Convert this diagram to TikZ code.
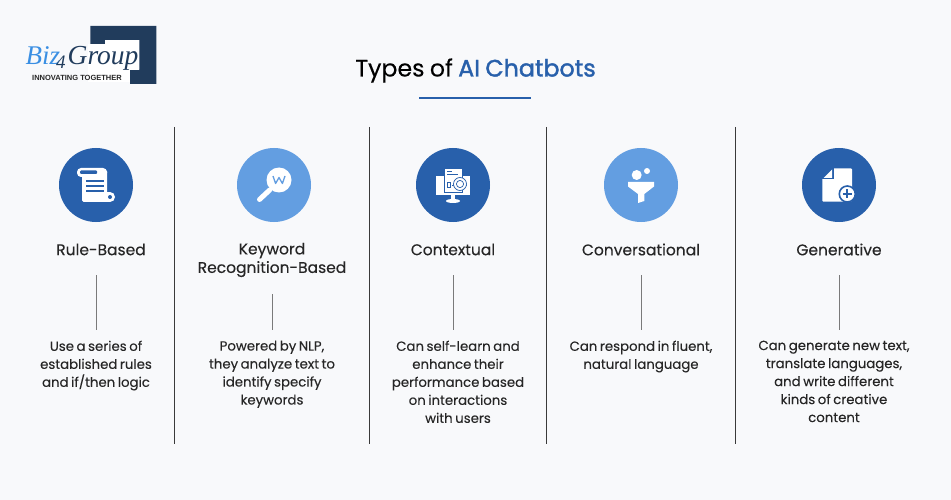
\documentclass[tikz,border=0pt]{standalone}
\usepackage{fontspec}
\setmainfont{Poppins}
\newfontfamily\bodyfont[WordSpace=0.72,FakeBold=0.12]{Poppins}
\newfontfamily\headfont[WordSpace=0.85,FakeBold=0.22]{Poppins}
\newfontfamily\titlefont[WordSpace=0.85,FakeBold=0.15]{Poppins}
\newfontfamily\accentfont[WordSpace=0.85,FakeBold=1.6]{Poppins}
\newfontfamily\logofont{Liberation Serif}
\newfontfamily\logosans{Liberation Sans}
\definecolor{bgc}{HTML}{F8F9FB}
\definecolor{deep}{HTML}{2860AB}
\definecolor{soft}{HTML}{639EE1}
\definecolor{navy}{HTML}{213C5C}
\definecolor{sky}{HTML}{3A8FE3}
\definecolor{ink}{HTML}{262626}
\definecolor{sep}{HTML}{3A3A3A}
\definecolor{tickc}{HTML}{7A7A7A}
\tikzset{
  x=1pt,y=-1pt,
  head/.style={font=\headfont\fontsize{15.5}{19}\selectfont,text=ink,align=center,inner sep=0pt},
  desc/.style={font=\bodyfont\fontsize{13.3}{18}\selectfont,text=ink,align=center,inner sep=0pt,anchor=north},
  badge/.style={circle,minimum size=74pt,inner sep=0pt},
  divider/.style={draw=sep,line width=1pt},
  tick/.style={draw=tickc,line width=1pt},
  paper/.style={fill=white,draw=none},
}
\begin{document}
\begin{tikzpicture}
\useasboundingbox (0,0) rectangle (951,500);
\fill[bgc] (0,0) rectangle (951,500);

% logo
\fill[navy] (90.3,26)--(156.3,26)--(156.3,84)--(130,84)--(130,70)--(139.3,70)--(139.3,40)--(105,40)--(105,44.3)--(90.3,44.3)--cycle;
\fill[white] (105,40) rectangle (139.3,70);
\fill[white] (88,44.3) rectangle (130,82);
\node[inner sep=0pt,anchor=base west] (logoa) at (25.5,64.5) {\logofont\itshape\fontsize{27}{27}\selectfont\textcolor{sky}{Biz}};
\node[inner sep=0pt,anchor=base west] (logob) at (56,69) {\logofont\itshape\fontsize{19}{19}\selectfont\textcolor{navy}{4}};
\node[inner sep=0pt,anchor=base west] (logoc) at (67.5,64.5) {\logofont\itshape\fontsize{27.5}{27}\selectfont\textcolor{navy}{Group}};
\node[inner sep=0pt,anchor=base west] (logod) at (32,80.5) {\logosans\bfseries\fontsize{7.5}{8}\selectfont\textcolor{ink}{INNOVATING TOGETHER}};

% title
\node[inner sep=0pt,anchor=base] (title) at (475.5,76.5) {\fontsize{23.7}{28}\selectfont\textcolor{black}{\titlefont Types of }\textcolor{deep}{\accentfont AI Chatbots}};
\draw[deep,line width=1.6pt] (419,98) -- (531,98);

% dividers
\foreach \n/\x in {a/174.5,b/369.5,c/546.5,d/735.5}{
  \coordinate (top\n) at (\x,127);
  \coordinate (bot\n) at (\x,444);
  \draw[divider] (top\n) -- (bot\n);
}

% badges
\node[badge,fill=deep] (b1) at (96,185) {};
\node[badge,fill=soft] (b2) at (274,185) {};
\node[badge,fill=deep] (b3) at (453,185) {};
\node[badge,fill=soft] (b4) at (641,185) {};
\node[badge,fill=deep] (b5) at (839,185) {};

% scroll icon
\begin{scope}[shift={(b1.center)}]
  \fill[paper,rounded corners=1.5pt] (-14,-15) rectangle (11,17);
  \fill[paper,rounded corners=4pt] (-19,-17) rectangle (11,-8);
  \fill[deep,rounded corners=1pt] (-16,-14.5) rectangle (1,-11);
  \fill[paper] (14,12) circle (5);
  \fill[paper] (8,7) rectangle (14,17);
  \fill[deep] (14,12) circle (2);
  \fill[deep] (-10.5,-5) rectangle (8,-3);
  \fill[deep] (-10.5,0) rectangle (8,2);
  \fill[deep] (-10.5,5.5) rectangle (8,7.5);
\end{scope}

% magnifier icon
\begin{scope}[shift={(b2.center)}]
  \draw[white,line width=5pt,line cap=round] (-4.3,5) -- (-14.5,14.5);
  \fill[white] (5,-5) circle (12.5);
  \draw[soft,line width=1.3pt,line join=round] (-1,-9) -- (1.6,-1.5) -- (5,-7.5) -- (8.4,-1.5) -- (11,-9);
\end{scope}

% monitor icon
\begin{scope}[shift={(b3.center)}]
  \fill[paper] (-17.3,-9.3) rectangle (17.3,10);
  \fill[paper] (-2,10) rectangle (2,15);
  \fill[paper] (0,16) ellipse (7 and 2);
  \fill[paper,draw=deep,line width=0.6pt] (-9,-17) -- (9,-17) -- (9,7) -- (-9,7) -- cycle;
  \draw[deep,line width=0.6pt] (-6,-14) -- (-1,-14);
  \draw[deep,line width=0.6pt] (-6,-11) -- (5,-11);
  \draw[deep,line width=0.6pt] (-6,-3) rectangle (-3,2);
  \draw[deep,line width=0.6pt] (-1,0) -- (14,0);
  \fill[white,draw=deep,line width=0.7pt] (7,-1) circle (6.5);
  \draw[deep,line width=0.7pt] (7,-1) circle (3.6);
\end{scope}

% funnel icon
\begin{scope}[shift={(b4.center)}]
  \fill[paper] (-13,-3)--(13,-3)--(13,1.5)--(3.3,9)--(3.3,16)--(-3,18)--(-3,9)--(-13,1.5)--cycle;
  \fill[paper] (-4.3,-10) circle (5);
  \fill[paper] (6,-14) circle (3);
\end{scope}

% document icon
\begin{scope}[shift={(b5.center)}]
  \fill[paper,rounded corners=1pt] (-6.7,-16.7) -- (13,-16.7) -- (13,16.7) -- (-16.7,16.7) -- (-16.7,-6.7) -- cycle;
  \fill[deep] (-17,-17) rectangle (-5.5,-5.5);
  \fill[paper] (-7,-15.5) -- (-7,-7) -- (-15.5,-7) -- cycle;
  \fill[white,draw=deep,line width=1.6pt] (8.3,9) circle (8);
  \draw[deep,line width=2pt] (3.8,9) -- (12.8,9);
  \draw[deep,line width=2pt] (8.3,4.5) -- (8.3,13.5);
\end{scope}

% headings
\node[head] (h1) at (101,249.5) {Rule-Based};
\node[head] (h2) at (272,260) {Keyword\\[-0.5pt]Recognition-Based};
\node[head] (h3) at (453,249.5) {Contextual};
\node[head] (h4) at (641,249.5) {Conversational};
\node[head] (h5) at (839,249.5) {Generative};

% descriptions
\node[desc] (d1) at (96,340.5) {Use a series of\\established rules\\and if/then logic};
\node[desc] (d2) at (272,340.5) {Powered by NLP,\\they analyze text to\\identify specify\\keywords};
\node[desc] (d3) at (458,340.5) {Can self-learn and\\enhance their\\performance based\\on interactions\\with users};
\node[desc] (d4) at (641,340.5) {Can respond in fluent,\\natural language};
\node[desc] (d5) at (834,340.5) {Can generate new text,\\translate languages,\\and write different\\kinds of creative\\content};

% ticks
\foreach \n/\x/\t in {1/96/275,2/272/294,3/453/275,4/641/275,5/839/275}{
  \coordinate (ta\n) at (\x,\t);
  \coordinate (tb\n) at (\x,329.5);
  \draw[tick] (ta\n) -- (tb\n);
}
\end{tikzpicture}
\end{document}
